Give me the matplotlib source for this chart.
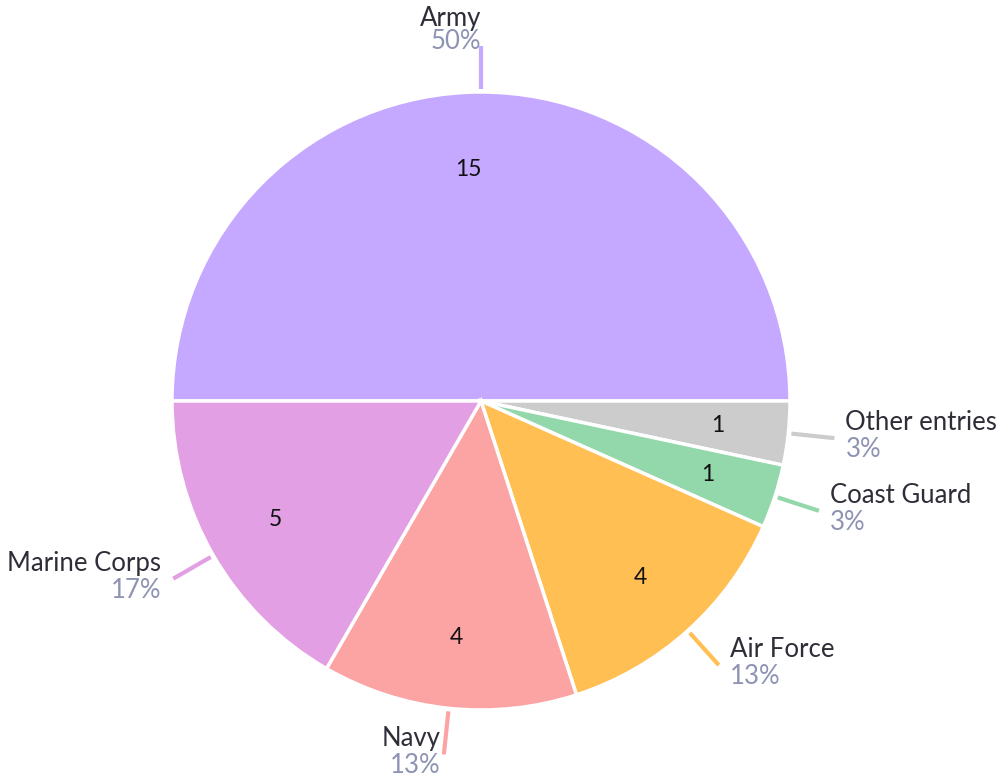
import matplotlib
matplotlib.use("Agg")
import matplotlib.pyplot as plt
import numpy as np

categories = ["Army", "Other entries", "Coast Guard", "Air Force", "Navy", "Marine Corps"]
values = [15, 1, 1, 4, 4, 5]
colors = ["#c5a8ff", "#cccccc", "#93d8aa", "#ffbf52", "#fca4a4", "#e29fe3"]

plt.rcParams['font.family'] = ['Lato', 'DejaVu Sans']

W, H = 1004, 782
fig = plt.figure(figsize=(W / 100, H / 100), dpi=100)
ax = fig.add_axes([0, 0, 1, 1])

cx, cy, R = 481, H - 401, 309
total = sum(values)
wedges, _ = ax.pie(values, colors=colors, startangle=180, counterclock=False,
                   center=(cx, cy), radius=R,
                   wedgeprops=dict(edgecolor="white", linewidth=2.5))
ax.set_xlim(0, W)
ax.set_ylim(0, H)
ax.set_aspect("equal")
ax.axis("off")

name_color = "#2e2e38"
pct_color = "#8e93b3"
FS = 18.5
for w, name, v, c in zip(wedges, categories, values, colors):
    ang = np.deg2rad((w.theta1 + w.theta2) / 2)
    ca, sa = np.cos(ang), np.sin(ang)
    top = abs(ca) < 0.2 and sa > 0
    # value label inside
    rl = 0.75 if top else 0.77
    ax.text(cx + rl * R * ca - (13 if top else 0), cy + rl * R * sa, str(v),
            ha="center", va="center", fontsize=16.5, color="#111111")
    # leader line
    r0, r1 = 1.01 * R, 1.15 * R
    x0, y0 = cx + r0 * ca, cy + r0 * sa
    x1, y1 = cx + r1 * ca, cy + r1 * sa
    ax.plot([x0, x1], [y0, y1], color=c, lw=3, solid_capstyle="butt")
    pct = f"{round(100 * v / total)}%"
    if top:
        tx, ha = x1, "right"
        ax.text(tx, y1 + 15, name, ha=ha, va="bottom", fontsize=FS, color=name_color)
        ax.text(tx, y1 + 17, pct, ha=ha, va="top", fontsize=FS, color=pct_color)
    else:
        if ca >= 0:
            tx, ha = x1 + 11, "left"
        else:
            tx, ha = x1 - (12 if abs(ca) > 0.3 else 3), "right"
        ax.text(tx, y1 + 3, name, ha=ha, va="bottom", fontsize=FS, color=name_color)
        ax.text(tx, y1 + 1, pct, ha=ha, va="top", fontsize=FS, color=pct_color)

fig.savefig("out.png", dpi=100)
